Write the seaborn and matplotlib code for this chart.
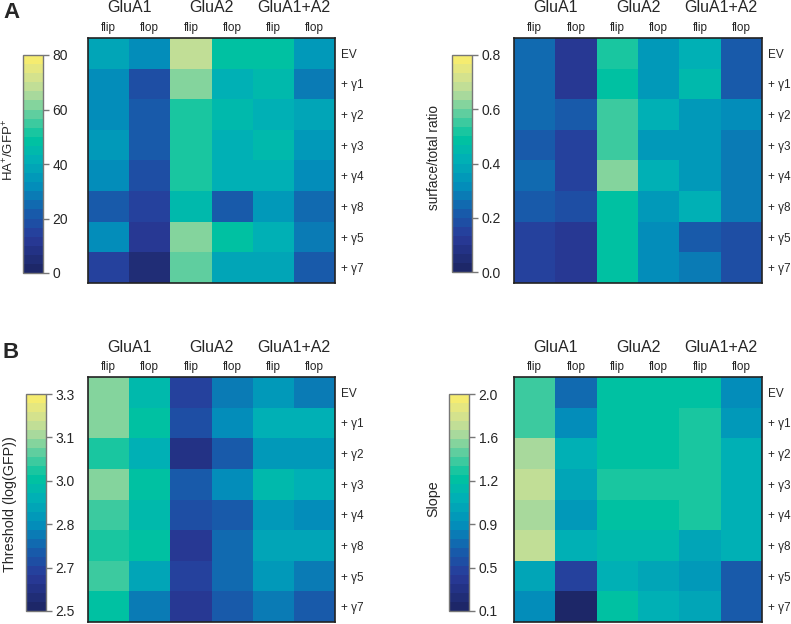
import matplotlib
matplotlib.use("Agg")
import matplotlib.pyplot as plt
import seaborn as sns
import numpy as np
import pandas as pd
from matplotlib.colors import LinearSegmentedColormap

# data
rows = ["EV", "+ γ1", "+ γ2", "+ γ3", "+ γ4", "+ γ8", "+ γ5", "+ γ7"]
cols = ["flip", "flop", "flip", "flop", "flip", "flop"]
groups = ["GluA1", "GluA2", "GluA1+A2"]

ha_gfp = [
    [37, 32, 68, 48, 48, 35],
    [30, 18, 61, 40, 45, 28],
    [30, 20, 52, 45, 42, 37],
    [35, 20, 52, 42, 45, 36],
    [32, 19, 52, 40, 43, 32],
    [22, 15, 44, 22, 35, 24],
    [30, 10, 61, 47, 40, 28],
    [15, 4, 57, 38, 38, 20],
]
surface_ratio = [
    [0.25, 0.13, 0.53, 0.35, 0.40, 0.22],
    [0.25, 0.13, 0.47, 0.35, 0.44, 0.22],
    [0.25, 0.22, 0.56, 0.42, 0.35, 0.33],
    [0.20, 0.15, 0.56, 0.35, 0.35, 0.29],
    [0.24, 0.15, 0.62, 0.40, 0.35, 0.29],
    [0.21, 0.18, 0.49, 0.36, 0.41, 0.29],
    [0.14, 0.12, 0.47, 0.33, 0.21, 0.17],
    [0.14, 0.12, 0.49, 0.33, 0.28, 0.17],
]
threshold = [
    [3.12, 2.96, 2.66, 2.77, 2.85, 2.77],
    [3.12, 2.98, 2.67, 2.82, 2.93, 2.90],
    [3.02, 2.93, 2.58, 2.70, 2.86, 2.84],
    [3.10, 2.97, 2.72, 2.83, 2.95, 2.90],
    [3.04, 2.96, 2.67, 2.72, 2.85, 2.83],
    [3.02, 2.98, 2.63, 2.74, 2.88, 2.87],
    [3.06, 2.88, 2.66, 2.74, 2.86, 2.79],
    [2.99, 2.77, 2.60, 2.73, 2.80, 2.73],
]
slope = [
    [1.37, 0.72, 1.24, 1.22, 1.28, 0.85],
    [1.43, 0.86, 1.28, 1.24, 1.30, 0.97],
    [1.66, 1.05, 1.22, 1.22, 1.32, 1.05],
    [1.76, 1.03, 1.30, 1.30, 1.30, 1.05],
    [1.68, 0.92, 1.27, 1.22, 1.33, 1.08],
    [1.76, 1.10, 1.18, 1.18, 1.00, 1.10],
    [1.00, 0.45, 1.08, 1.00, 0.95, 0.60],
    [0.86, 0.15, 1.25, 1.08, 0.98, 0.65],
]

sns.set_style("white")
plt.rcParams['font.family'] = ['Liberation Sans', 'DejaVu Sans']
plt.rcParams['mathtext.fontset'] = 'custom'
plt.rcParams['mathtext.rm'] = 'Liberation Sans'
plt.rcParams['mathtext.it'] = 'Liberation Sans'

cmap = LinearSegmentedColormap.from_list("ygb", [
    (0.00, "#1d2768"),
    (0.15, "#283a9a"),
    (0.28, "#1560ad"),
    (0.40, "#0290bb"),
    (0.52, "#00b0b5"),
    (0.62, "#00c3a0"),
    (0.72, "#4fcc9f"),
    (0.84, "#b4db9c"),
    (0.93, "#dce48a"),
    (1.00, "#f5ec70"),
], N=24)

W, H = 791, 624
fig = plt.figure(figsize=(W / 100, H / 100), dpi=100)


def box(x0, y0, x1, y1):
    return [x0 / W, 1 - y1 / H, (x1 - x0) / W, (y1 - y0) / H]


def panel(data, hm_box, cb_box, vmin, vmax, nticks, fmt, label, label_xy, lsize):
    ax = fig.add_axes(box(*hm_box))
    cax = fig.add_axes(box(*cb_box))
    df = pd.DataFrame(data, index=rows)
    sns.heatmap(df, ax=ax, cmap=cmap, vmin=vmin, vmax=vmax, cbar_ax=cax)
    for s in ax.spines.values():
        s.set_visible(True)
        s.set_color("#222222")
        s.set_linewidth(1.2)
    ax.xaxis.tick_top()
    ax.set_xticks(np.arange(6) + 0.5)
    ax.set_xticklabels(cols, fontsize=8.5)
    ax.yaxis.tick_right()
    ax.set_yticks(np.arange(8) + 0.5)
    ax.set_yticklabels(rows, rotation=0, fontsize=8.5)
    ax.tick_params(axis='y', length=0, pad=4.5)
    ax.tick_params(axis='x', length=0, pad=3)
    ax.set_xlabel("")
    ax.set_ylabel("")
    hpx = hm_box[3] - hm_box[1]
    for i, g in enumerate(groups):
        ax.text((2 * i + 1) / 6, 1 + 30 / hpx, g, transform=ax.transAxes,
                ha='center', va='center', fontsize=11.5)
    ticks = np.linspace(vmin, vmax, nticks)
    cax.set_yticks(ticks)
    cax.set_yticklabels([fmt.format(t) for t in ticks], fontsize=10)
    cax.tick_params(length=4, width=1, color="#777777", pad=3)
    cax.yaxis.set_ticks_position('right')
    cb = ax.collections[0].colorbar
    cb.outline.set_edgecolor("#777777")
    cb.outline.set_linewidth(1)
    fig.text(label_xy[0] / W, 1 - label_xy[1] / H, label, rotation=90,
             ha='center', va='center', fontsize=lsize)
    return ax


panel(ha_gfp, (88, 38, 335, 283), (23, 55, 43, 273), 0, 80, 5, "{:.0f}",
      "HA$^{+}$/GFP$^{+}$", (9, 150), 9.5)
panel(surface_ratio, (514, 38, 762, 283), (452, 55, 472, 272), 0, 0.8, 5,
      "{:.1f}", "surface/total ratio", (434, 158), 9.8)
panel(threshold, (88, 377, 335, 622), (26, 394, 46, 611), 2.5, 3.3, 6,
      "{:.1f}", "Threshold (log(GFP))", (10, 504), 10.3)
panel(slope, (514, 377, 762, 622), (449, 394, 469, 611), 0.1, 2.0, 6,
      "{:.1f}", "Slope", (433, 499), 10.3)

fig.text(3 / W, 1 - 13 / H, "A", fontsize=16, fontweight='bold', va='center')
fig.text(3 / W, 1 - 352 / H, "B", fontsize=16, fontweight='bold', va='center')

fig.savefig("out.png", dpi=100)
